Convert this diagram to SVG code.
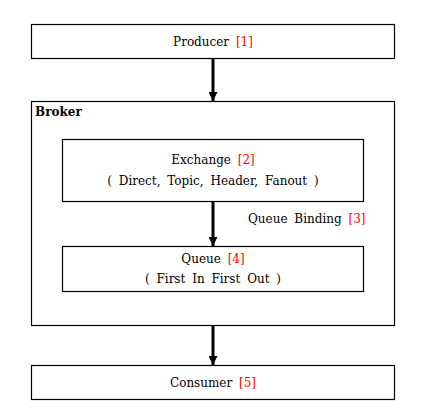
<svg xmlns="http://www.w3.org/2000/svg" width="422" height="419" viewBox="0 0 422 419">
<defs>
<style>
.box{fill:#fff;stroke:#000;stroke-width:1.2}
.t{font-family:"DejaVu Serif","Liberation Serif",serif;font-size:12px;fill:#000;text-anchor:middle;word-spacing:3px}
.r{fill:#ff0000}
.c{stroke:#000;stroke-width:3;fill:none}
</style>
<marker id="ah" markerWidth="3" markerHeight="3" refX="3" refY="1.5" orient="auto" markerUnits="strokeWidth">
<path d="M0,0 L3,1.5 L0,3 z" fill="#000"/>
</marker>
</defs>
<rect width="422" height="419" fill="#fff"/>
<g id="producer">
<rect class="box" x="31.5" y="24.5" width="363" height="34"/>
<text class="t" x="213" y="46">Producer <tspan class="r">[1]</tspan></text>
</g>
<g id="broker">
<rect class="box" x="31.5" y="101.5" width="363" height="224"/>
<text x="35" y="116" style="font-family:'DejaVu Serif','Liberation Serif',serif;font-size:12px;font-weight:600">Broker</text>
</g>
<g id="exchange">
<rect class="box" x="62.5" y="139.5" width="301" height="62"/>
<text class="t" x="213" y="164">Exchange <tspan class="r">[2]</tspan></text>
<text class="t" x="213" y="185">( Direct, Topic, Header, Fanout )</text>
</g>
<g id="queue">
<rect class="box" x="62.5" y="246.5" width="301" height="45"/>
<text class="t" x="213" y="263">Queue <tspan class="r">[4]</tspan></text>
<text class="t" x="213" y="283">( First In First Out )</text>
</g>
<g id="consumer">
<rect class="box" x="31.5" y="365.5" width="363" height="34"/>
<text class="t" x="213" y="387">Consumer <tspan class="r">[5]</tspan></text>
</g>
<g id="connectors">
<line class="c" x1="213" y1="59" x2="213" y2="101" marker-end="url(#ah)"/>
<line class="c" x1="213" y1="202" x2="213" y2="246" marker-end="url(#ah)"/>
<text class="t" x="248" y="223" style="text-anchor:start">Queue Binding <tspan class="r">[3]</tspan></text>
<line class="c" x1="213" y1="326" x2="213" y2="365" marker-end="url(#ah)"/>
</g>
</svg>
